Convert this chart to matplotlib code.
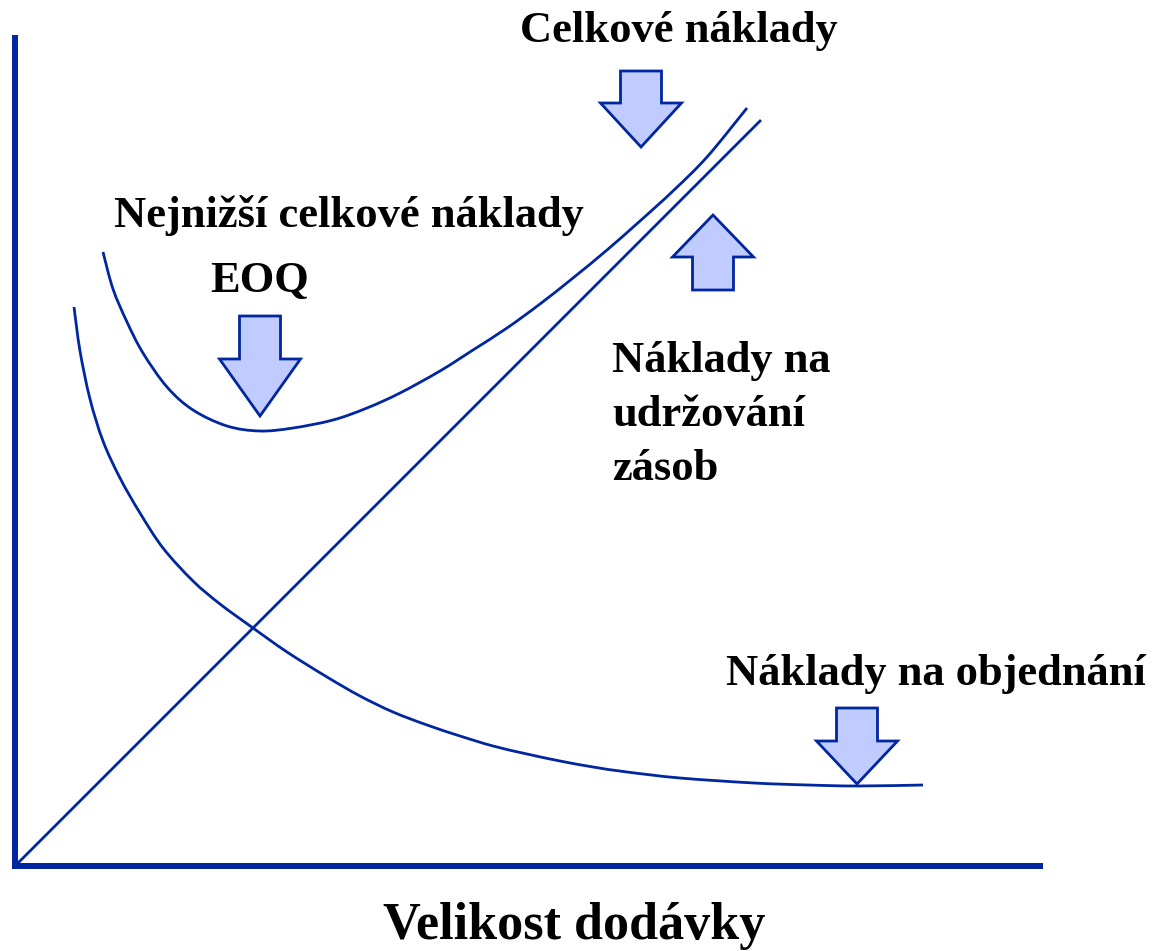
"""
EOQ chart: holding, ordering and total cost vs. order size
"""

import matplotlib
matplotlib.use("Agg")
import matplotlib.pyplot as plt
from matplotlib.patches import Polygon, PathPatch
from matplotlib.path import Path

# ---- data (order size q, cost) ----
hold_q = [0.0, 7.45]
hold_c = [0.0, 7.45]

order_q = [0.59, 0.65, 0.75, 0.88, 1.05, 1.25, 1.48, 1.78, 2.05, 2.38, 2.72,
           3.12, 3.45, 3.78, 4.12, 4.45, 4.78, 5.12, 5.45, 5.78, 6.12, 6.65,
           7.39, 7.93, 8.42, 9.08]
order_c = [5.59, 5.15, 4.67, 4.25, 3.88, 3.53, 3.18, 2.85, 2.62, 2.38, 2.14,
           1.89, 1.70, 1.54, 1.41, 1.30, 1.20, 1.12, 1.05, 0.99, 0.94, 0.88,
           0.83, 0.81, 0.80, 0.81]

total_q = [0.88, 0.98, 1.12, 1.28, 1.52, 1.78, 2.12, 2.45, 2.78, 3.18, 3.52,
           3.85, 4.25, 4.58, 4.92, 5.25, 5.58, 5.92, 6.25, 6.58, 6.92, 7.32]
total_c = [6.14, 5.77, 5.44, 5.13, 4.79, 4.56, 4.40, 4.35, 4.38, 4.46, 4.58,
           4.73, 4.95, 5.16, 5.38, 5.62, 5.88, 6.16, 6.45, 6.75, 7.09, 7.58]

# arrows: tip x, tip y, direction (+1 up, -1 down), total length, head length
arrow_x = [6.26, 6.98, 2.45, 8.42]
arrow_y = [7.19, 6.51, 4.50, 0.82]
arrow_dir = [-1, 1, -1, -1]
arrow_len = [0.76, 0.75, 1.00, 0.76]
arrow_head = [0.44, 0.42, 0.57, 0.43]

navy = "#0026A0"
fill = "#C0CCFF"


def smooth_path(xs, ys):
    # curve through the read points (Catmull-Rom drawn as Bezier segments)
    pts = list(zip(xs, ys))
    verts = [pts[0]]
    codes = [Path.MOVETO]
    n = len(pts)
    for i in range(n - 1):
        p0 = pts[max(i - 1, 0)]
        p1 = pts[i]
        p2 = pts[i + 1]
        p3 = pts[min(i + 2, n - 1)]
        c1 = (p1[0] + (p2[0] - p0[0]) / 6, p1[1] + (p2[1] - p0[1]) / 6)
        c2 = (p2[0] - (p3[0] - p1[0]) / 6, p2[1] - (p3[1] - p1[1]) / 6)
        verts += [c1, c2, p2]
        codes += [Path.CURVE4] * 3
    return Path(verts, codes)


fig = plt.figure(figsize=(11.6, 9.51), dpi=100)
ax = fig.add_axes([0, 0, 1, 1])
ax.set_xlim(-0.15, 11.45)
ax.set_ylim(-0.85, 8.66)
ax.axis("off")

# axes lines
ax.plot([0, 0], [-0.03, 8.31], color=navy, lw=4.3, solid_capstyle="butt")
ax.plot([-0.03, 10.28], [0, 0], color=navy, lw=4.3, solid_capstyle="butt")

# cost curves
ax.plot(hold_q, hold_c, color=navy, lw=2.0)
for qs, cs in [(order_q, order_c), (total_q, total_c)]:
    ax.add_patch(PathPatch(smooth_path(qs, cs), facecolor="none",
                           edgecolor=navy, lw=2.0, capstyle="butt"))

# block arrows
shaft_w = 0.41
head_w = 0.81
for x, y, d, L, H in zip(arrow_x, arrow_y, arrow_dir, arrow_len, arrow_head):
    base = y - d * H
    end = y - d * L
    pts = [(x, y), (x - head_w / 2, base), (x - shaft_w / 2, base),
           (x - shaft_w / 2, end), (x + shaft_w / 2, end),
           (x + shaft_w / 2, base), (x + head_w / 2, base)]
    ax.add_patch(Polygon(pts, closed=True, facecolor=fill, edgecolor=navy,
                         lw=2.0, joinstyle="miter", zorder=3))

# labels
font = dict(family="Liberation Serif", weight="bold", color="black",
            ha="left", va="baseline", fontsize=32)
ax.text(5.05, 8.24, "Celkové náklady", **font)
ax.text(0.99, 6.39, "Nejnižší celkové náklady", **font)
ax.text(1.95, 5.74, "EOQ", **font)
ax.text(5.97, 4.94, "Náklady na", **font)
ax.text(5.97, 4.40, "udržování", **font)
ax.text(5.97, 3.86, "zásob", **font)
ax.text(7.11, 1.81, "Náklady na objednání", **font)
ax.text(3.68, -0.73, "Velikost dodávky", family="Liberation Serif",
        weight="bold", color="black", ha="left", va="baseline", fontsize=37.5)

plt.savefig("out.png", dpi=100)
